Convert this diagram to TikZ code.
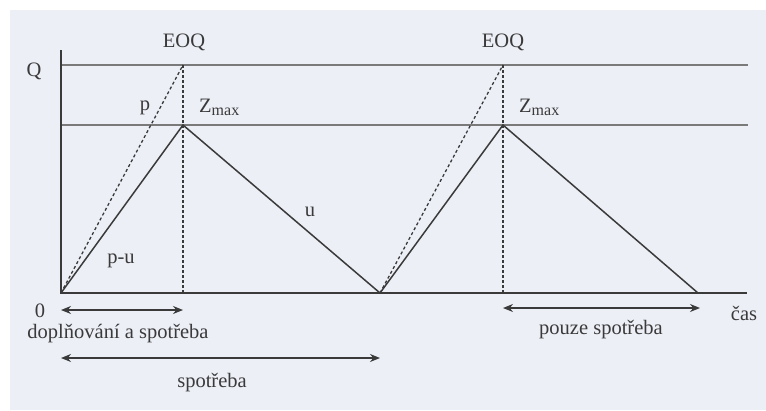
\documentclass[tikz,border=0pt]{standalone}
\usepackage{fontspec}
\setmainfont{Liberation Serif}
\usetikzlibrary{arrows.meta}
\definecolor{bg}{HTML}{EDEFF7}
\definecolor{ink}{HTML}{3A3A3A}
\definecolor{grid}{HTML}{7A7A7A}
\begin{document}
\begin{tikzpicture}[x=1pt,y=-1pt,
  main/.style={draw=ink,line width=1.5pt},
  level/.style={draw=grid,line width=1.2pt},
  dashline/.style={draw=ink,line width=1.3pt,dash pattern=on 3pt off 2.5pt},
  dotline/.style={draw=ink,line width=1.3pt,dash pattern=on 2.5pt off 2.5pt},
  span/.style={draw=ink,line width=1.5pt,{Stealth[length=10pt,width=8pt]}-{Stealth[length=10pt,width=8pt]}},
  lbl/.style={text=ink,font=\fontsize{20.5}{22}\selectfont,inner sep=0pt}]
\useasboundingbox (0,0) rectangle (766,410);
\fill[white] (0,0) rectangle (766,410);
\fill[bg] (10,10) rectangle (766,410);
% coordinates
\coordinate (top) at (61,50);
\coordinate (O) at (61,293);
\coordinate (P1) at (183,125);
\coordinate (E1) at (183,65);
\coordinate (B1) at (183,293);
\coordinate (V) at (380,293);
\coordinate (P2) at (503,125);
\coordinate (E2) at (503,65);
\coordinate (B2) at (503,293);
\coordinate (W) at (698,293);
\coordinate (bend) at (747,293);
\coordinate (qL) at (61,65);
\coordinate (qR) at (748,65);
\coordinate (zL) at (61,125);
\coordinate (zR) at (748,125);
% level lines
\draw[level] (qL) -- (qR);
\draw[level] (zL) -- (zR);
% axes
\draw[main] (top) -- (O) -- (bend);
% dashed p lines
\draw[dashline] (O) -- (E1);
\draw[dashline] (V) -- (E2);
% dotted verticals
\draw[dotline] (E1) -- (B1);
\draw[dotline] (E2) -- (B2);
% inventory profile
\draw[main,line join=miter] (O) -- (P1) -- (V) -- (P2) -- (W);
% labels
\node[lbl] (eoq1) at (184,42) {EOQ};
\node[lbl] (eoq2) at (503,42) {EOQ};
\node[lbl] (q) at (34,71) {Q};
\node[lbl,anchor=base] (p) at (145,110) {p};
\node[lbl,anchor=base west] (z1) at (199,112) {Z\raisebox{-3.5pt}{\fontsize{16}{16}\selectfont max}};
\node[lbl,anchor=base west] (z2) at (519,112) {Z\raisebox{-3.5pt}{\fontsize{16}{16}\selectfont max}};
\node[lbl,anchor=base] (u) at (310,216) {u};
\node[lbl,anchor=base] (pu) at (121,263) {p-u};
\node[lbl,anchor=base] (zero) at (40,317) {0};
\node[lbl] (cas) at (744,313) {čas};
% spans
\coordinate (a1) at (61,310);
\coordinate (a2) at (183,310);
\draw[span] (a1) -- (a2);
\node[lbl,anchor=base] (t1) at (118,338.5) {doplňování a spotřeba};
\coordinate (s1) at (61,358);
\coordinate (s2) at (380,358);
\draw[span] (s1) -- (s2);
\node[lbl,anchor=base] (t2) at (212,387) {spotřeba};
\coordinate (r1) at (503,308);
\coordinate (r2) at (700,308);
\draw[span] (r1) -- (r2);
\node[lbl,anchor=base] (t3) at (601,334) {pouze spotřeba};
\end{tikzpicture}
\end{document}
